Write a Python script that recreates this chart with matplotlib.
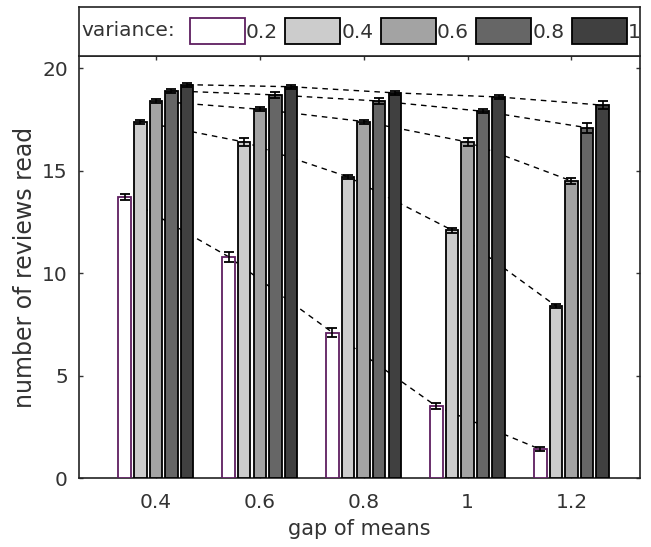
import numpy as np
import matplotlib
matplotlib.use('Agg')
from matplotlib import pyplot as plt
from matplotlib.patches import Rectangle

# data
gaps = ['0.4', '0.6', '0.8', '1', '1.2']
variances = ['0.2', '0.4', '0.6', '0.8', '1']

v02 = [13.7, 10.8, 7.1, 3.5, 1.4]
v04 = [17.4, 16.4, 14.7, 12.1, 8.4]
v06 = [18.4, 18.0, 17.4, 16.4, 14.5]
v08 = [18.9, 18.7, 18.4, 17.9, 17.1]
v10 = [19.2, 19.1, 18.8, 18.6, 18.2]

e02 = [0.15, 0.25, 0.2, 0.15, 0.1]
e04 = [0.1, 0.2, 0.1, 0.12, 0.1]
e06 = [0.1, 0.1, 0.1, 0.2, 0.15]
e08 = [0.1, 0.15, 0.15, 0.1, 0.25]
e10 = [0.1, 0.1, 0.1, 0.1, 0.2]

series = [v02, v04, v06, v08, v10]
errors = [e02, e04, e06, e08, e10]
faces = ['white', '#cccccc', '#a3a3a3', '#666666', '#404040']
edges = ['#5e1f60', 'black', 'black', 'black', 'black']

plt.rcParams['font.family'] = 'DejaVu Sans'
txt = '#333333'

fig = plt.figure(figsize=(6.51, 5.47), dpi=100)
ax = fig.add_axes([79/651, 1-478/547, 561/651, 422/547])

x = np.arange(1, len(gaps)+1)
pitch = 0.15
width = 0.12

for i, (vals, errs) in enumerate(zip(series, errors)):
    xs = x + (i-2)*pitch
    ax.bar(xs, vals, width, color=faces[i], edgecolor=edges[i],
           linewidth=1.3, zorder=3)
    ax.errorbar(xs, vals, yerr=errs, fmt='none', ecolor='black',
                elinewidth=1.2, capsize=3.5, capthick=1.3, zorder=4)
    ax.plot(xs, vals, color='black', linestyle=(0, (4, 3.5)),
            linewidth=1.0, zorder=2)

ax.set_xlim(0.26, 5.66)
ax.set_ylim(0, 20.6)
ax.set_xticks(x)
ax.set_xticklabels(gaps)
ax.set_yticks([0, 5, 10, 15, 20])
ax.tick_params(direction='in', length=3, width=1, labelsize=14.5,
               top=True, right=True, colors=txt)
ax.tick_params(axis='x', pad=11)
ax.tick_params(axis='y', pad=8)
for s in ax.spines.values():
    s.set_linewidth(1.2)
    s.set_color('#222222')
ax.set_xlabel('gap of means', fontsize=15, labelpad=5, color=txt)
ax.set_ylabel('number of reviews read', fontsize=17, labelpad=4, color=txt)

# legend box above the axes
lax = fig.add_axes([79/651, 1-56/547, 561/651, 49/547])
lax.set_xlim(79, 640)
lax.set_ylim(0, 1)
lax.set_xticks([])
lax.set_yticks([])
for s in lax.spines.values():
    s.set_linewidth(1.2)
    s.set_color('#222222')
lax.text(81, 0.52, 'variance:', fontsize=14.5, va='center', ha='left',
         color=txt)
for i, lab in enumerate(variances):
    x0 = 190 + i*95.5
    lax.add_patch(Rectangle((x0, 0.245), 55, 0.53, facecolor=faces[i],
                            edgecolor=edges[i], linewidth=1.3))
    lax.text(x0+56, 0.48, lab, fontsize=14.5, va='center', ha='left',
             color=txt)

fig.savefig('out.png', dpi=100)
